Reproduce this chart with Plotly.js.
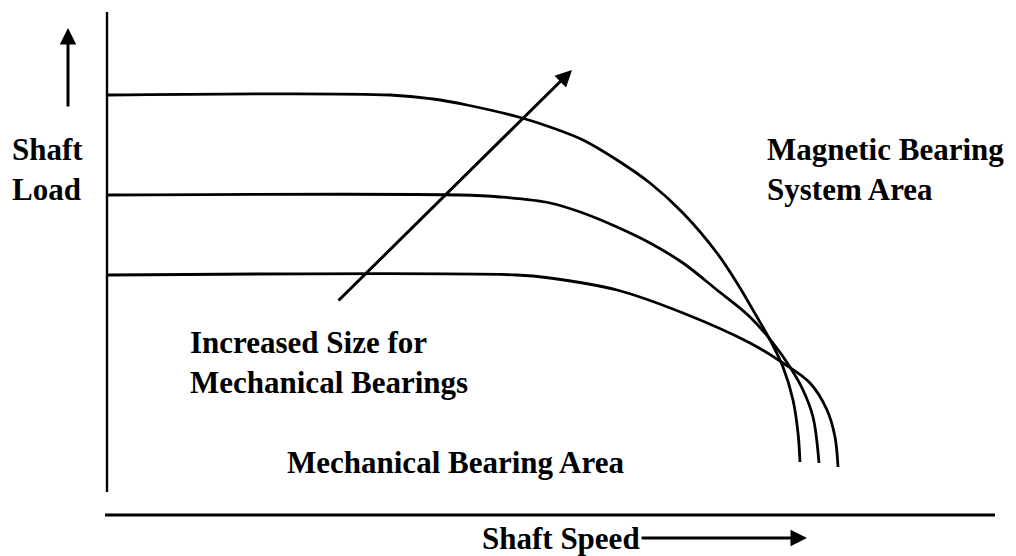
<!DOCTYPE html>
<html>
<head>
<meta charset="utf-8">
<script src="https://cdn.plot.ly/plotly-3.0.1.min.js"></script>
<style>html,body{margin:0;padding:0;background:#fff;}#chart{width:1016px;height:556px;}</style>
</head>
<body>
<div id="chart"></div>
<script>
// Units: origin at the corner of the two axis lines; speed to the right, load upwards.
const smallSpeed = [0, 410, 443, 510, 576, 643, 676, 703, 720, 728, 731];
const smallLoad  = [240, 240, 237, 225, 202, 172, 152, 132, 105, 78, 48];

const mediumSpeed = [0, 353, 393, 443, 476, 510, 543, 576, 610, 643, 666, 683, 696, 706, 712];
const mediumLoad  = [320, 320, 318, 312, 302, 288, 272, 252, 225, 198, 172, 148, 125, 98, 52];

const largeSpeed = [0, 283, 326, 360, 415, 443, 476, 510, 543, 576, 610, 630, 650, 663, 676, 686, 691, 693];
const largeLoad  = [420, 420, 416, 410, 397, 388, 375, 355, 332, 302, 262, 232, 198, 175, 148, 115, 82, 53];

const loadAxisLine  = {x: [0, 0], y: [23, 503]};
const speedAxisLine = {x: [-2, 888], y: [0, 0]};

const sizeArrow  = {from: [230, 213], to: [465, 445]};
const loadArrow  = {from: [-39, 407], to: [-39, 487]};
const speedArrow = {from: [533, -23], to: [700, -23]};

const labels = [
  {text: "Shaft<br>Load", x: -97, y: 346},
  {text: "Magnetic Bearing<br>System Area", x: 658, y: 346},
  {text: "Increased Size for<br>Mechanical Bearings", x: 81, y: 153},
  {text: "Mechanical Bearing Area", x: 178, y: 53},
  {text: "Shaft Speed", x: 373, y: -23}
];

const black = "#000";
const lineW = 2.8;

function curve(x, y) {
  return {x: x, y: y, type: "scatter", mode: "lines",
    line: {color: black, width: lineW, shape: "spline", smoothing: 1},
    hoverinfo: "skip", showlegend: false};
}
function straight(o, w) {
  return {x: o.x, y: o.y, type: "scatter", mode: "lines",
    line: {color: black, width: w}, hoverinfo: "skip", showlegend: false};
}

const traces = [
  straight(loadAxisLine, 2.4),
  straight(speedAxisLine, 3),
  curve(smallSpeed, smallLoad),
  curve(mediumSpeed, mediumLoad),
  curve(largeSpeed, largeLoad)
];

function arrow(a) {
  return {x: a.to[0], y: a.to[1], ax: a.from[0], ay: a.from[1],
    xref: "x", yref: "y", axref: "x", ayref: "y",
    showarrow: true, arrowhead: 2, arrowsize: 1.1, arrowwidth: 3,
    arrowcolor: black, text: "", standoff: 0, startstandoff: 0};
}

const font = {family: "Liberation Serif, Times New Roman, serif", size: 31, color: black};
const annotations = [arrow(sizeArrow), arrow(loadArrow), arrow(speedArrow)];
labels.forEach(l => annotations.push({
  text: "<b>" + l.text + "</b>", x: l.x, y: l.y, xref: "x", yref: "y",
  xanchor: "left", yanchor: "middle", align: "left", showarrow: false, font: font
}));

const layout = {
  width: 1016, height: 556,
  margin: {l: 0, r: 0, t: 0, b: 0},
  paper_bgcolor: "#fff", plot_bgcolor: "#fff",
  xaxis: {range: [-107, 909], visible: false, fixedrange: true},
  yaxis: {range: [-41, 515], visible: false, fixedrange: true},
  annotations: annotations,
  showlegend: false
};

Plotly.newPlot("chart", traces, layout, {staticPlot: true, displayModeBar: false});
</script>
</body>
</html>
